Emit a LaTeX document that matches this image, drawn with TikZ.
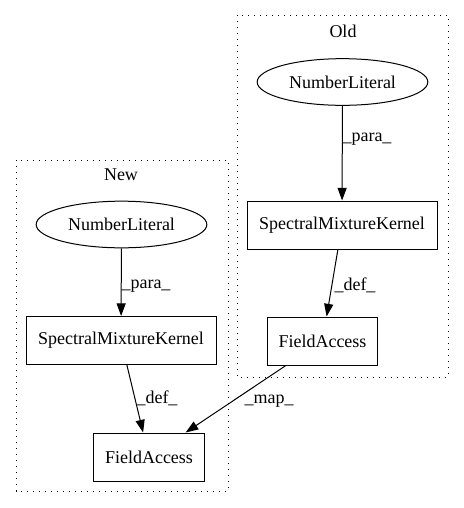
\documentclass[tikz,border=0pt]{standalone}
\usepackage{fontspec}
\setmainfont{Liberation Serif}
\usetikzlibrary{arrows.meta,shapes.geometric}
\begin{document}
\begin{tikzpicture}[x=0.75pt,y=-0.75pt,
  every node/.style={font=\fontsize{13.5pt}{16pt}\selectfont},
  cluster/.style={draw,line width=0.75pt,dash pattern=on 1pt off 3.5pt},
  ell/.style={draw,ellipse,line width=0.75pt,inner sep=0pt,minimum width=128pt,minimum height=35pt},
  boxn/.style={draw,rectangle,line width=0.75pt,inner sep=0pt,minimum height=36pt},
  edge/.style={draw,line width=0.75pt,-{Triangle[length=9.5pt,width=6.8pt]}},
  lbl/.style={inner sep=0pt}
]
\useasboundingbox (0,0) rectangle (464,508);
% clusters
\draw[cluster] (237,15) rectangle (448,377);
\node[lbl] (oldlabel) at (343,31) {Old};
\draw[cluster] (16,160) rectangle (228,491);
\node[lbl] (newlabel) at (121,175) {New};
% Old nodes
\node[ell] (onl) at (342.5,82) {NumberLiteral};
\node[boxn,minimum width=142.5pt] (osmk) at (342,225) {SpectralMixtureKernel};
\node[boxn,minimum width=83pt] (ofa) at (322.5,341) {FieldAccess};
% New nodes
\node[ell] (nnl) at (121.5,224.5) {NumberLiteral};
\node[boxn,minimum width=142.5pt] (nsmk) at (121,340.5) {SpectralMixtureKernel};
\node[boxn,minimum width=83pt] (nfa) at (149,457) {FieldAccess};
% edges
\draw[edge] (onl) -- (osmk);
\node[lbl] (l1) at (367,139) {\_para\_};
\draw[edge] (osmk) -- (ofa);
\node[lbl] (l2) at (355,285) {\_def\_};
\draw[edge] (nnl) -- (nsmk);
\node[lbl] (l3) at (146,286) {\_para\_};
\draw[edge] (nsmk) -- (nfa);
\node[lbl] (l4) at (157,398) {\_def\_};
\draw[edge] (ofa) -- (nfa);
\node[lbl] (l5) at (269,401) {\_map\_};
\end{tikzpicture}
\end{document}
